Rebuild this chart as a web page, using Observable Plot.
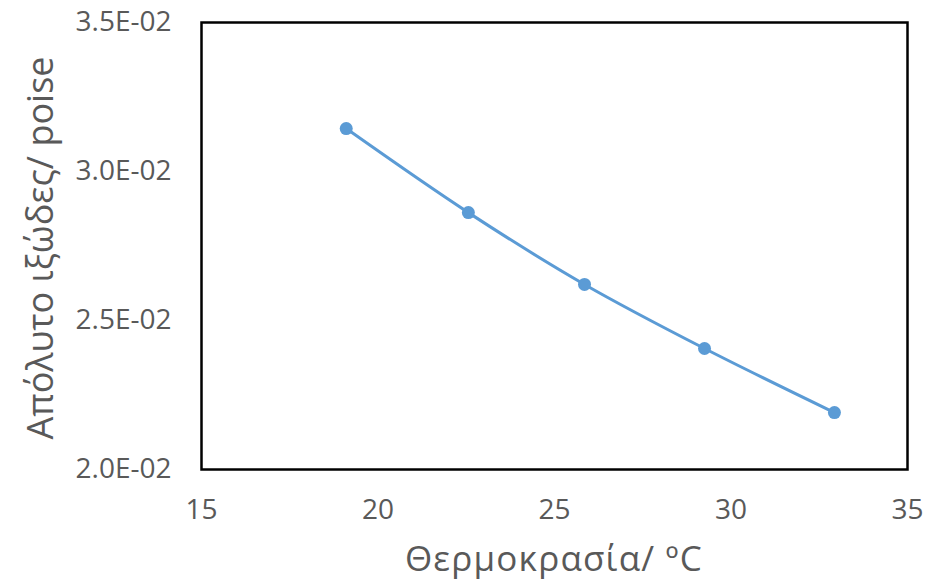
<!DOCTYPE html>
<html>
<head>
<meta charset="utf-8">
<script src="https://cdn.jsdelivr.net/npm/d3@7"></script>
<script src="https://cdn.jsdelivr.net/npm/@observablehq/plot@0.6"></script>
<style>
  html, body { margin: 0; padding: 0; background: #fff; }
  #chart svg { display: block; }
</style>
</head>
<body>
<div id="chart"></div>
<script>
const temperature = [19.1, 22.56, 25.85, 29.25, 32.93];
const viscosity = [0.03144, 0.02862, 0.02621, 0.02406, 0.02191];
const xTicks = [15, 20, 25, 30, 35];
const yTicks = [0.020, 0.025, 0.030, 0.035];
const xTitle = "Θερμοκρασία/ ºC";
const yTitle = "Απόλυτο ιξώδες/ poise";

const data = temperature.map((t, i) => ({t, v: viscosity[i]}));
const fmtE = d => d.toExponential(1).toUpperCase().replace(/E([+-])(\d)$/, "E$10$2");

const W = 942, H = 584;
const mL = 201, mT = 22, mR = 35, mB = 115;

const plot = Plot.plot({
  width: W,
  height: H,
  marginLeft: mL,
  marginTop: mT,
  marginRight: mR,
  marginBottom: mB,
  style: {fontFamily: "'Open Sans', sans-serif", fontSize: "28px", color: "#595959", background: "#fff"},
  x: {domain: [15, 35], ticks: xTicks, tickSize: 0, tickPadding: 30, label: null},
  y: {domain: [0.020, 0.035], ticks: yTicks, tickSize: 0, tickPadding: 30, tickFormat: fmtE, label: null},
  marks: [
    Plot.line(data, {x: "t", y: "v", stroke: "#5B9BD5", strokeWidth: 3, curve: "catmull-rom"}),
    Plot.dot(data, {x: "t", y: "v", r: 6.5, fill: "#5B9BD5", stroke: "none"}),
    Plot.frame({stroke: "#000", strokeWidth: 2.5})
  ]
});

document.getElementById("chart").appendChild(plot);

const svg = d3.select(plot);
svg.append("text")
  .attr("x", (mL + W - mR) / 2)
  .attr("y", 571)
  .attr("text-anchor", "middle")
  .attr("fill", "#595959")
  .style("font-family", "'Open Sans', sans-serif")
  .style("font-size", "35px")
  .style("letter-spacing", "1.2px")
  .text(xTitle);
svg.append("text")
  .attr("transform", `translate(53, 248) rotate(-90)`)
  .attr("text-anchor", "middle")
  .attr("fill", "#595959")
  .style("font-family", "'Open Sans', sans-serif")
  .style("font-size", "36px")
  .text(yTitle);
</script>
</body>
</html>
